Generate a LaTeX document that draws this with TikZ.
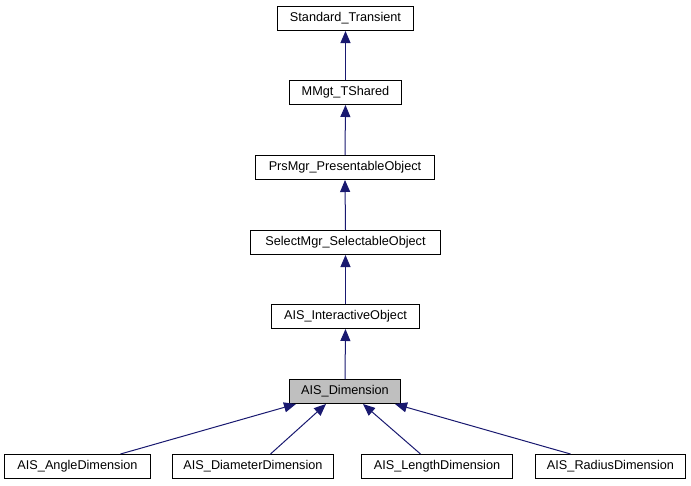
\documentclass[tikz,border=0pt]{standalone}
\usepackage{fontspec}
\setmainfont{Liberation Sans}
\usetikzlibrary{arrows.meta,calc}
\definecolor{edgeblue}{HTML}{191970}
\definecolor{hilite}{HTML}{BFBFBF}
\tikzset{
  cls/.style={draw=black, line width=1pt, fill=white, minimum height=24pt,
    inner sep=0pt, font=\fontsize{12.7}{14}\selectfont, anchor=north west},
  inherit/.style={draw=edgeblue, line width=1pt,
    -{Triangle[length=12pt,width=10pt]}, color=edgeblue}
}
\begin{document}
\begin{tikzpicture}[x=1pt,y=-1pt]
\useasboundingbox (0,0) rectangle (691,485);
% inheritance chain
\node[cls, minimum width=136pt] (st)  at (277,6)   {Standard\_Transient};
\node[cls, minimum width=112pt] (mm)  at (289,80)  {MMgt\_TShared};
\node[cls, minimum width=179pt] (prs) at (255,155) {PrsMgr\_PresentableObject};
\node[cls, minimum width=190pt] (sel) at (250,230) {SelectMgr\_SelectableObject};
\node[cls, minimum width=148pt] (io)  at (271,304) {AIS\_InteractiveObject};
\node[cls, minimum width=111pt, fill=hilite] (dim) at (289,379) {AIS\_Dimension};
% derived dimensions
\node[cls, minimum width=146pt] (ang) at (4,454)   {AIS\_AngleDimension};
\node[cls, minimum width=161pt] (dia) at (172,454) {AIS\_DiameterDimension};
\node[cls, minimum width=151pt] (len) at (361,454) {AIS\_LengthDimension};
\node[cls, minimum width=150pt] (rad) at (535,454) {AIS\_RadiusDimension};
% connectors
\draw[inherit] (mm.north)  -- (st.south);
\draw[inherit] (prs.north) -- (mm.south);
\draw[inherit] (sel.north) -- (prs.south);
\draw[inherit] (io.north)  -- (sel.south);
\draw[inherit] (dim.north) -- (io.south);
\draw[inherit] ($(ang.north)+(43,0)$)   -- ($(dim.south)+(-49,0)$);
\draw[inherit] ($(dia.north)+(17.5,0)$) -- ($(dim.south)+(-19,0)$);
\draw[inherit] ($(len.north)+(-16.5,0)$) -- ($(dim.south)+(18,0)$);
\draw[inherit] ($(rad.north)+(-40,0)$)  -- ($(dim.south)+(50,0)$);
\end{tikzpicture}
\end{document}
